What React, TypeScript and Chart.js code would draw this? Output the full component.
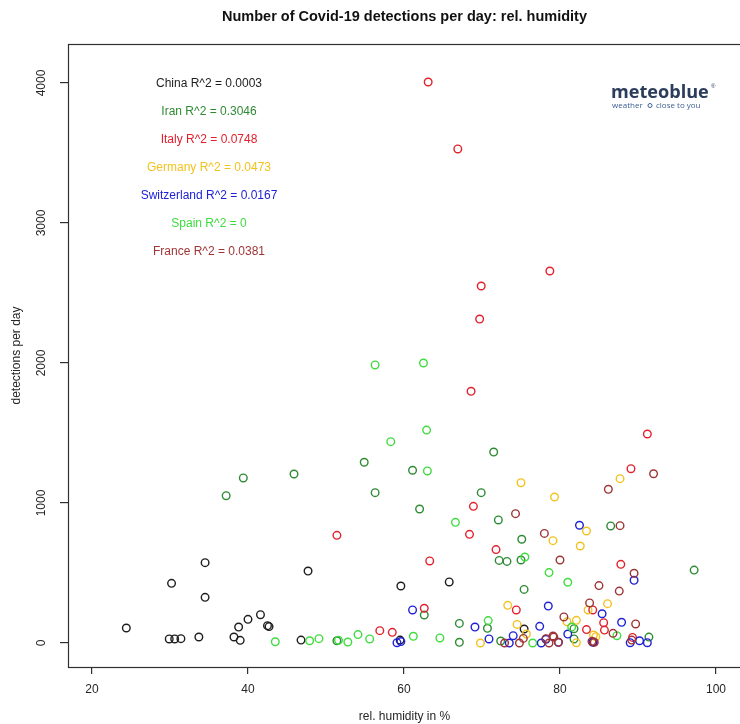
import React, { useEffect, useRef } from "react";
import { Chart, registerables } from "chart.js";

Chart.register(...registerables);

// Daily detections against relative humidity, one series per country
const chinaHumidity = [24.4, 30.2, 34.5, 34.5, 47.7, 29.9, 30.6, 31.4, 33.7, 38.2, 39.0, 38.8, 40.0, 41.6, 42.5, 42.7, 46.8, 59.6, 65.8, 59.5, 75.4];
const chinaCases = [107, 426, 574, 326, 514, 29, 29, 31, 43, 43, 19, 114, 169, 202, 124, 117, 21, 407, 436, 21, 100];

const iranHumidity = [37.2, 39.4, 45.9, 54.9, 56.3, 61.1, 62.0, 71.5, 69.9, 72.1, 72.2, 73.2, 75.0, 75.1, 75.4, 62.6, 67.1, 70.7, 67.1, 51.4, 72.4, 81.8, 81.8, 86.5, 97.2, 91.4];
const iranCases = [1052, 1179, 1207, 1291, 1074, 1234, 957, 1364, 1074, 879, 590, 583, 593, 741, 383, 200, 140, 105, 5, 16, 14, 102, 29, 836, 521, 42];

const italyHumidity = [63.1, 66.9, 78.7, 69.9, 69.7, 68.6, 68.9, 68.4, 51.4, 71.8, 63.3, 62.6, 56.9, 58.5, 74.4, 84.2, 87.8, 91.2, 89.1, 83.4, 85.7, 85.6, 89.3, 84.3];
const italyCases = [4007, 3529, 2657, 2550, 2314, 1798, 976, 776, 769, 667, 586, 248, 88, 76, 236, 236, 562, 1493, 1245, 96, 92, 145, 40, 8];

const germanyHumidity = [75.0, 79.3, 87.7, 83.4, 79.1, 82.6, 73.3, 83.6, 86.1, 80.9, 82.1, 74.5, 75.7, 84.3, 84.6, 82.1, 69.8];
const germanyCases = [1145, 1043, 1174, 800, 731, 693, 269, 236, 281, 152, 162, 133, 64, 57, 45, 2, 0];

const switzerlandHumidity = [61.1, 59.1, 59.6, 69.1, 70.9, 73.5, 74.0, 77.4, 77.6, 78.2, 78.5, 81.0, 82.5, 85.4, 87.9, 89.5, 89.0, 90.2, 91.2, 84.2, 79.8];
const switzerlandCases = [236, 2, 10, 114, 29, 0, 52, 119, 0, 26, 264, 64, 841, 209, 148, 448, 2, 16, 2, 5, 5];

const spainHumidity = [56.3, 62.5, 62.9, 58.3, 63.0, 66.6, 70.8, 75.5, 78.6, 81.0, 81.5, 87.3, 76.5, 43.5, 47.9, 49.1, 51.6, 52.8, 54.1, 55.6, 61.2, 64.6];
const spainCases = [1986, 2000, 1521, 1438, 1229, 862, 160, 614, 503, 434, 114, 52, 0, 9, 16, 31, 20, 7, 60, 29, 48, 36];

const franceHumidity = [92.0, 86.2, 74.3, 87.7, 78.0, 80.0, 89.5, 85.0, 87.6, 83.8, 80.5, 89.7, 86.8, 75.3, 79.1, 89.2, 72.9, 74.8, 78.6, 79.8, 84.1, 84.4, 79.2, 78.2];
const franceCases = [1209, 1098, 924, 838, 783, 593, 498, 410, 371, 286, 186, 136, 69, 33, 50, 21, 0, 0, 0, 5, 12, 5, 43, 31];

const countries = ["China", "Iran", "Italy", "Germany", "Switzerland", "Spain", "France"];
const rSquared = ["0.0003", "0.3046", "0.0748", "0.0473", "0.0167", "0", "0.0381"];
const humidityByCountry = [chinaHumidity, iranHumidity, italyHumidity, germanyHumidity, switzerlandHumidity, spainHumidity, franceHumidity];
const casesByCountry = [chinaCases, iranCases, italyCases, germanyCases, switzerlandCases, spainCases, franceCases];
const countryColors = ["#1e1e1e", "#2f8a34", "#e3202c", "#f2c21f", "#1f22d6", "#3fdc3f", "#9e3434"];

const xTicks = [20, 40, 60, 80, 100];
const yTicks = [0, 1000, 2000, 3000, 4000];

const FONT = "'Liberation Sans', Arial, Helvetica, sans-serif";
const INK = "#262626";

const decorations = {
  id: "decorations",
  afterDraw(chart: any) {
    const { ctx, chartArea: a, scales } = chart;
    ctx.save();

    // plot frame (its right edge sits just past the canvas)
    ctx.strokeStyle = "#303030";
    ctx.lineWidth = 1.2;
    ctx.strokeRect(a.left + 0.5, a.top + 0.5, a.right - a.left + 2, a.bottom - a.top);

    // y tick labels, rotated as in base graphics
    ctx.fillStyle = INK;
    ctx.font = `12px ${FONT}`;
    ctx.textAlign = "center";
    ctx.textBaseline = "middle";
    for (const v of yTicks) {
      const y = scales.y.getPixelForValue(v);
      ctx.save();
      ctx.translate(42, y);
      ctx.rotate(-Math.PI / 2);
      ctx.fillText(String(v), 0, 0);
      ctx.restore();
    }

    const cx = (a.left + 741) / 2;

    // title
    ctx.font = `bold 14.5px ${FONT}`;
    ctx.fillStyle = "#111";
    ctx.fillText("Number of Covid-19 detections per day: rel. humidity", cx, 17);

    // axis titles
    ctx.font = `12px ${FONT}`;
    ctx.fillStyle = INK;
    ctx.fillText("rel. humidity in %", cx, 717);
    ctx.save();
    ctx.translate(17, (a.top + a.bottom) / 2);
    ctx.rotate(-Math.PI / 2);
    ctx.fillText("detections per day", 0, 0);
    ctx.restore();

    // goodness-of-fit notes
    ctx.font = `12px ${FONT}`;
    countries.forEach((name, i) => {
      ctx.fillStyle = countryColors[i];
      ctx.fillText(`${name} R^2 = ${rSquared[i]}`, 209, 84 + i * 28);
    });

    // brand mark
    ctx.textAlign = "left";
    ctx.textBaseline = "alphabetic";
    ctx.fillStyle = "#2b3d5b";
    ctx.font = `bold 17px 'Open Sans', ${FONT}`;
    const w = ctx.measureText("meteoblue").width;
    const size = 17 * (98 / w);
    ctx.font = `bold ${size.toFixed(1)}px 'Open Sans', ${FONT}`;
    ctx.fillText("meteoblue", 611, 98);
    ctx.font = `6px ${FONT}`;
    ctx.fillText("®", 711, 88);
    ctx.fillStyle = "#3d5f92";
    ctx.font = `8px 'Open Sans', ${FONT}`;
    ctx.fillText("weather", 612, 108);
    ctx.strokeStyle = "#3d5f92";
    ctx.lineWidth = 1;
    ctx.beginPath();
    ctx.arc(650, 105.5, 2, 0, Math.PI * 2);
    ctx.stroke();
    ctx.fillText("close to you", 656, 108);

    ctx.restore();
  },
};

export default function App() {
  const canvasRef = useRef<HTMLCanvasElement | null>(null);

  useEffect(() => {
    const canvas = canvasRef.current;
    if (!canvas) return;

    const datasets = countries.map((name, i) => ({
      label: name,
      data: humidityByCountry[i].map((h, j) => ({ x: h, y: casesByCountry[i][j] })),
      borderColor: countryColors[i],
      backgroundColor: "rgba(0,0,0,0)",
      pointRadius: 3.8,
      pointBorderWidth: 1.4,
      pointHoverRadius: 3.8,
      showLine: false,
      order: -i,
    }));

    const chart = new Chart(canvas, {
      type: "scatter",
      data: { datasets },
      options: {
        responsive: false,
        animation: false,
        devicePixelRatio: 1,
        layout: { autoPadding: false, padding: { top: 44, left: 0, right: 0, bottom: 0 } },
        plugins: {
          legend: { display: false },
          tooltip: { enabled: false },
          title: { display: false },
        },
        events: [],
        scales: {
          x: {
            type: "linear",
            min: 16.923,
            max: 103.08,
            afterBuildTicks: (s: any) => {
              s.ticks = xTicks.map((v) => ({ value: v }));
            },
            afterFit: (s: any) => {
              s.height = 57;
              s.paddingLeft = 0;
              s.paddingRight = 0;
            },
            grid: {
              drawOnChartArea: false,
              drawTicks: true,
              tickLength: 7,
              color: "#303030",
              lineWidth: 1.2,
            },
            border: { display: false },
            ticks: {
              autoSkip: false,
              maxRotation: 0,
              minRotation: 0,
              padding: 8,
              color: INK,
              font: { family: FONT, size: 12 },
            },
          },
          y: {
            type: "linear",
            min: -171.4,
            max: 4278.6,
            afterBuildTicks: (s: any) => {
              s.ticks = yTicks.map((v) => ({ value: v }));
            },
            afterFit: (s: any) => {
              s.width = 68;
              s.paddingTop = 0;
              s.paddingBottom = 0;
            },
            grid: {
              drawOnChartArea: false,
              drawTicks: true,
              tickLength: 8,
              color: "#303030",
              lineWidth: 1.2,
            },
            border: { display: false },
            ticks: { display: false },
          },
        },
      },
      plugins: [decorations],
    });

    return () => chart.destroy();
  }, []);

  return (
    <div style={{ position: "fixed", left: 0, top: 0, width: 740, height: 724, background: "#fff" }}>
      <canvas ref={canvasRef} width={740} height={724} style={{ display: "block" }} />
    </div>
  );
}
